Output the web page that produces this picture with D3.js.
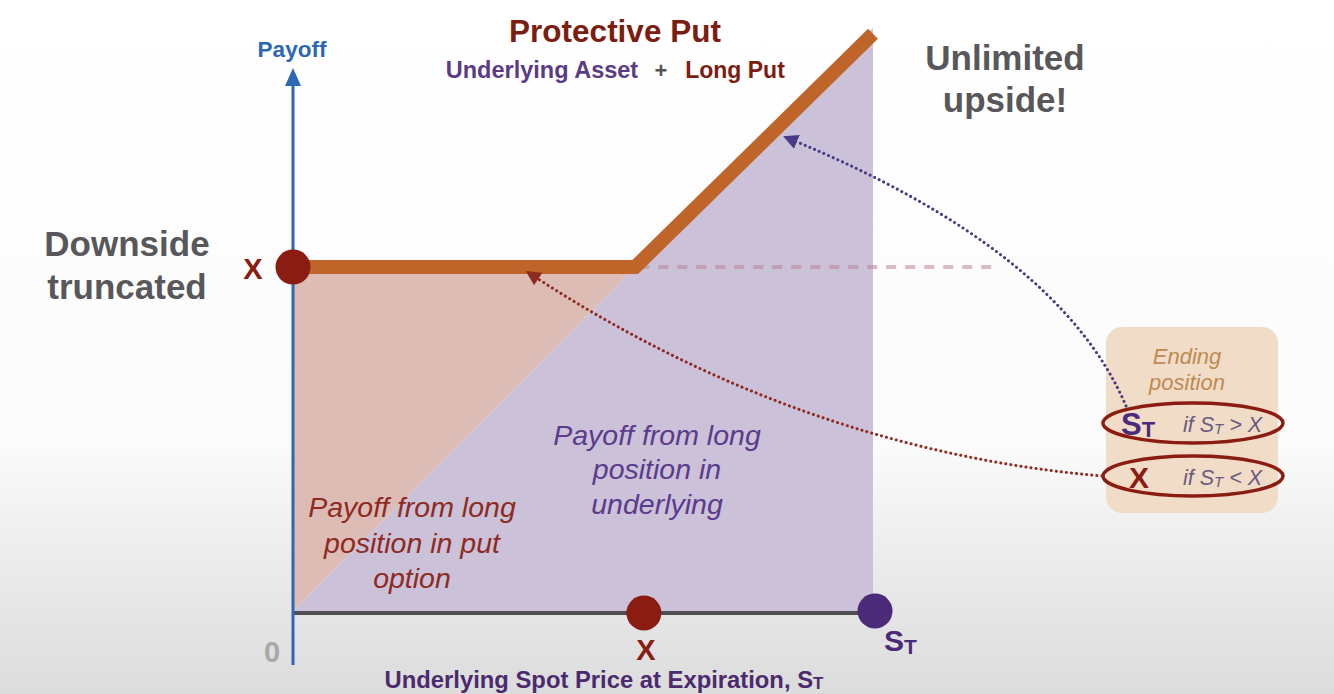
<!DOCTYPE html>
<html><head><meta charset="utf-8">
<script src="https://cdn.jsdelivr.net/npm/d3@7"></script>
<style>html,body{margin:0;padding:0;background:#fff;}svg{display:block;}</style>
</head><body>
<svg id="c" width="1334" height="694"></svg>
<script>
// ---- data ----
const spotPoints = [0, 59, 100];          // underlying spot price at expiration
const protectivePayoff = [59, 59, 99];    // payoff of protective put
const underlyingPayoff = [0, 100];        // payoff of long underlying (at spot 0 and 100)
const strike = 59;                        // X
const strikeMarker = 60.5;                // X marker on spot axis
const stMax = 100;                        // S_T marker
const titleText = "Protective Put";
const xAxisLabel = "Underlying Spot Price at Expiration, S";
const yAxisLabel = "Payoff";

const svg = d3.select("#c");
const W = 1334, H = 694;
const x = d3.scaleLinear().domain([0, 100]).range([293, 873]);
const y = d3.scaleLinear().domain([0, 100]).range([611, 28]);

const defs = svg.append("defs");
const bg = defs.append("linearGradient").attr("id","bg").attr("x1",0).attr("y1",0).attr("x2",0).attr("y2",1);
bg.append("stop").attr("offset","0").attr("stop-color","#ffffff");
bg.append("stop").attr("offset","0.64").attr("stop-color","#fbfbfb");
bg.append("stop").attr("offset","0.8").attr("stop-color","#ececec");
bg.append("stop").attr("offset","1").attr("stop-color","#dcdcdc");
svg.append("rect").attr("width",W).attr("height",H).attr("fill","url(#bg)");

function mk(id, color){
  defs.append("marker").attr("id",id).attr("viewBox","0 0 10 10").attr("refX",5).attr("refY",5)
    .attr("markerWidth",5).attr("markerHeight",5).attr("orient","auto-start-reverse").attr("markerUnits","strokeWidth")
    .append("path").attr("d","M0,0 L10,5 L0,10 z").attr("fill",color);
}
mk("arrP","#4a3a86"); mk("arrR","#8e2a1e");

// purple region: long underlying payoff
const area = d3.line().x(d=>x(d[0])).y(d=>y(d[1]));
svg.append("path").attr("d", area([[0,0],[stMax,0],[stMax,underlyingPayoff[1]],[0,underlyingPayoff[0]]]) + "Z")
  .attr("fill","#cbc1d8");
// pink region: long put payoff
svg.append("path").attr("d", area([[0,0],[0,strike],[strike,strike]]) + "Z")
  .attr("fill","#dcbcb5");

// dashed reference line at X
svg.append("line").attr("x1", x(strike)+4).attr("x2", 1000).attr("y1", y(strike)).attr("y2", y(strike))
  .attr("stroke","#b9859a").attr("stroke-opacity",0.55).attr("stroke-width",4).attr("stroke-dasharray","10,9");

// x axis
svg.append("line").attr("x1", x(0)).attr("x2", x(stMax)).attr("y1", y(0)+2).attr("y2", y(0)+2)
  .attr("stroke","#4e4e52").attr("stroke-width",4);
// y axis
svg.append("line").attr("x1", x(0)).attr("x2", x(0)).attr("y1", 665).attr("y2", 84)
  .attr("stroke","#2c68b4").attr("stroke-width",3);
svg.append("path").attr("d", `M${x(0)-8},86 L${x(0)},68 L${x(0)+8},86 Z`).attr("fill","#2c68b4");

// protective put payoff line
svg.append("path").attr("d", d3.line().x(d=>x(d[0])).y(d=>y(d[1]))(spotPoints.map((s,i)=>[s, protectivePayoff[i]])))
  .attr("fill","none").attr("stroke","#c0652a").attr("stroke-width",14).attr("stroke-linejoin","miter");

// markers
svg.append("circle").attr("cx", x(0)).attr("cy", y(strike)).attr("r",17.5).attr("fill","#8a1c12");
svg.append("circle").attr("cx", x(strikeMarker)).attr("cy", y(0)+2).attr("r",17.5).attr("fill","#8a1c12");
svg.append("circle").attr("cx", x(stMax)+2).attr("cy", y(0)).attr("r",17.5).attr("fill","#4b2a7a");

const F = "'Liberation Sans', Arial, Helvetica, sans-serif";
function txt(t, px, py, size, color, opts={}){
  const e = svg.append("text").attr("x",px).attr("y",py).attr("font-family",F).attr("font-size",size)
    .attr("fill",color).attr("text-anchor",opts.anchor||"middle").attr("font-weight",opts.weight||"bold")
    .attr("font-style",opts.style||"normal").text(t);
  return e;
}
txt(titleText, 615, 42, 31.5, "#7c1d12");
txt("Underlying Asset", 542, 78, 23.5, "#5b3b85");
txt("+", 661, 78, 22, "#555");
txt("Long Put", 735, 78, 23, "#7c1d12");
txt(yAxisLabel, 292, 57, 22.5, "#2c68b4");
txt("Unlimited", 1005, 70, 35, "#58585a");
txt("upside!", 1005, 112, 35, "#58585a");
txt("Downside", 127, 256, 35, "#58585a");
txt("truncated", 127, 299, 35, "#58585a");
txt("X", 253, 279, 29, "#8a1c12");
txt("0", 272, 662, 29, "#a8a8a8");
txt("X", 646, 660, 29, "#8a1c12");
const st = txt("S", 884, 651, 30, "#4b2a7a", {anchor:"start"});
st.append("tspan").attr("font-size",21).attr("dy",3).text("T");
const xl = txt(xAxisLabel, 604, 688, 23.8, "#4b2a6e");
xl.append("tspan").attr("font-size",17).attr("dy",1).text("T");

// italic annotations
[["Payoff from long",507],["position in put",543],["option",578]].forEach(d=>
  txt(d[0], 412, d[1]+10, 28.5, "#8e2a22", {weight:"normal", style:"italic"}));
[["Payoff from long",435],["position in",469],["underlying",504]].forEach(d=>
  txt(d[0], 657, d[1]+10, 28.5, "#5b3b8c", {weight:"normal", style:"italic"}));

// ending position box
svg.append("rect").attr("x",1106).attr("y",327).attr("width",172).attr("height",186).attr("rx",16)
  .attr("fill","#f1dcc8");
txt("Ending", 1187, 364, 22, "#c08a52", {weight:"normal", style:"italic"});
txt("position", 1187, 390, 22, "#c08a52", {weight:"normal", style:"italic"});
const s2 = txt("S", 1121, 435, 31, "#4b2a7a", {anchor:"start"});
s2.append("tspan").attr("font-size",22).attr("dy",2).text("T");
const c1 = txt("if S", 1183, 432, 21.5, "#6a5a80", {anchor:"start", weight:"normal", style:"italic"});
c1.append("tspan").attr("font-size",15).attr("dy",2).text("T");
c1.append("tspan").attr("dy",-2).text(" > X");
txt("X", 1139, 488, 30, "#8a1c12");
const c2 = txt("if S", 1183, 485, 21.5, "#6a5a80", {anchor:"start", weight:"normal", style:"italic"});
c2.append("tspan").attr("font-size",15).attr("dy",2).text("T");
c2.append("tspan").attr("dy",-2).text(" < X");
svg.append("ellipse").attr("cx",1193).attr("cy",423).attr("rx",90).attr("ry",20)
  .attr("fill","none").attr("stroke","#8a1c12").attr("stroke-width",3.5);
svg.append("ellipse").attr("cx",1193).attr("cy",476).attr("rx",90).attr("ry",20)
  .attr("fill","none").attr("stroke","#8a1c12").attr("stroke-width",3.5);

// dotted curved arrows
svg.append("path").attr("d","M1126,406 Q1060,250 790,139").attr("fill","none")
  .attr("stroke","#4a3a86").attr("stroke-width",3).attr("stroke-dasharray","0.1,5").attr("stroke-linecap","round")
  .attr("marker-end","url(#arrP)");
svg.append("path").attr("d","M1102,476 Q800,450 532,275").attr("fill","none")
  .attr("stroke","#8e2a1e").attr("stroke-width",3).attr("stroke-dasharray","0.1,5").attr("stroke-linecap","round")
  .attr("marker-end","url(#arrR)");
</script>
</body></html>
